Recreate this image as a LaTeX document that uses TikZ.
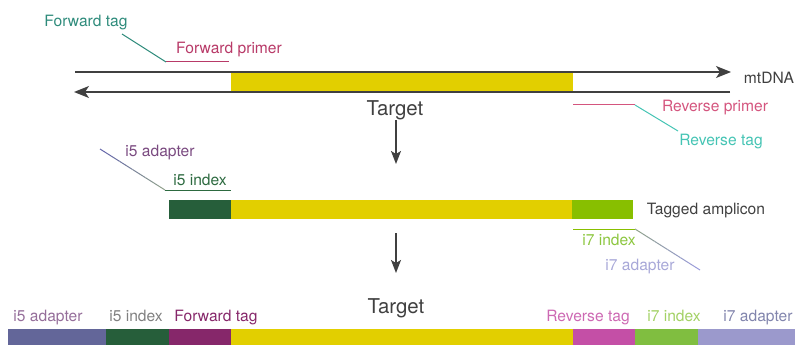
\documentclass[tikz,border=0pt]{standalone}
\usepackage{fontspec}
\setmainfont{TeX Gyre Heros}
\usetikzlibrary{arrows.meta,calc}
\definecolor{tyellow}{HTML}{E2CF00}
\definecolor{dgreen}{HTML}{265E3A}
\definecolor{lgreen}{HTML}{88BF00}
\definecolor{lgreenb}{HTML}{80BE40}
\definecolor{ftag}{HTML}{86276A}
\definecolor{rtagbar}{HTML}{C44FA6}
\definecolor{iadbar}{HTML}{636699}
\definecolor{sevadbar}{HTML}{9B99CC}
\definecolor{tealF}{HTML}{2E8B7B}
\definecolor{fprim}{HTML}{B83A68}
\definecolor{rprim}{HTML}{D4557E}
\definecolor{rtagc}{HTML}{45C4B4}
\definecolor{ifivead}{HTML}{7A4A80}
\definecolor{ifiveidx}{HTML}{2D6A40}
\definecolor{sevidx}{HTML}{8CC63F}
\definecolor{sevad}{HTML}{A8A8D8}
\definecolor{dgrey}{HTML}{404040}
\definecolor{c1}{HTML}{6466AA}
\definecolor{c2}{HTML}{8FA08C}
\definecolor{c3}{HTML}{9A9CDC}
\tikzset{
  lbl/.style={anchor=base, inner sep=0pt, font=\fontsize{15.6}{17}\selectfont},
  big/.style={anchor=base, inner sep=0pt, font=\fontsize{20.4}{22}\selectfont, text=dgrey},
  bar/.style={draw=none, inner sep=0pt, outer sep=0pt, anchor=north west},
  strand/.style={draw=dgrey, line width=1.4pt},
  harrow/.style={strand, -{Stealth[length=15pt,width=12pt,inset=4pt]}},
  varrow/.style={draw=dgrey, line width=1.4pt, -{Stealth[length=13pt,width=10pt,inset=3pt]}},
  leader/.style={line width=1pt},
}
\begin{document}
\begin{tikzpicture}[x=1pt,y=-1pt]
\useasboundingbox (0,0) rectangle (796,345);
% top strands
\coordinate (s1a) at (75,72);
\coordinate (s1b) at (731,72);
\coordinate (s2a) at (74,92);
\coordinate (s2b) at (730,92);
\node[bar, fill=tyellow, minimum width=342pt, minimum height=19pt] (target1) at (231,73) {};
\draw[harrow] (s1a) -- (s1b);
\draw[harrow] (s2b) -- (s2a);
\node[lbl, text=dgrey] (mtdna) at (769,84) {mtDNA};
\node[big] (tlabel1) at (395,115) {Target};
% forward primer / tag
\coordinate (fp1) at (166,62);
\coordinate (fp2) at (229,62);
\coordinate (ft1) at (122,34);
\draw[leader, draw=fprim] (fp1) -- (fp2);
\draw[leader, draw=tealF] (ft1) -- (fp1);
\node[lbl, text=tealF] (ftaglbl) at (86,27) {Forward tag};
\node[lbl, text=fprim] (fprimlbl) at (229,54) {Forward primer};
% reverse primer / tag
\coordinate (rp1) at (573,105);
\coordinate (rp2) at (635,105);
\coordinate (rt1) at (678,131);
\draw[leader, draw=rprim] (rp1) -- (rp2);
\draw[leader, draw=rtagc] (rp2) -- (rt1);
\node[lbl, text=rprim] (rprimlbl) at (715,112) {Reverse primer};
\node[lbl, text=rtagc] (rtaglbl) at (721,145) {Reverse tag};
% arrow 1
\coordinate (a1a) at (396,120);
\coordinate (a1b) at (396,164);
\draw[varrow] (a1a) -- (a1b);
% tagged amplicon
\node[bar, fill=dgreen, minimum width=62pt, minimum height=19pt] (m1) at (169,200) {};
\node[bar, fill=tyellow, minimum width=341pt, minimum height=19pt] (m2) at (231,200) {};
\node[bar, fill=lgreen, minimum width=61pt, minimum height=19pt] (m3) at (572,200) {};
\node[lbl, text=dgrey] (tamp) at (706,214) {Tagged amplicon};
% i5 leader
\coordinate (i5a) at (100,149);
\coordinate (i5b) at (165,190);
\coordinate (i5c) at (231,190);
\foreach \i in {0,...,9}{
  \pgfmathsetmacro{\p}{100-\i*11}
  \draw[leader, draw=c1!\p!c2] ($(i5a)!\i/10!(i5b)$) -- ($(i5a)!\i/10+0.1!(i5b)$);
}
\draw[leader, draw=ifiveidx] (i5b) -- (i5c);
\node[lbl, text=ifivead] (i5adlbl) at (160,157) {i5 adapter};
\node[lbl, text=ifiveidx] (i5idxlbl) at (200,185) {i5 index};
% i7 leader
\coordinate (i7a) at (573,229);
\coordinate (i7b) at (635,229);
\coordinate (i7c) at (700,270);
\draw[leader, draw=lgreen] (i7a) -- (i7b);
\foreach \i in {0,...,9}{
  \pgfmathsetmacro{\p}{100-\i*11}
  \draw[leader, draw=c2!\p!c3] ($(i7b)!\i/10!(i7c)$) -- ($(i7b)!\i/10+0.1!(i7c)$);
}
\node[lbl, text=sevidx] (i7idxlbl) at (609,245) {i7 index};
\node[lbl, text=sevad] (i7adlbl) at (640,270) {i7 adapter};
% arrow 2
\coordinate (a2a) at (396,233);
\coordinate (a2b) at (396,273);
\draw[varrow] (a2a) -- (a2b);
% bottom construct
\node[big] (tlabel2) at (396,313) {Target};
\node[bar, fill=iadbar, minimum width=98pt, minimum height=17pt] (b1) at (8,329) {};
\node[bar, fill=dgreen, minimum width=63pt, minimum height=17pt] (b2) at (106,329) {};
\node[bar, fill=ftag, minimum width=62pt, minimum height=17pt] (b3) at (169,329) {};
\node[bar, fill=tyellow, minimum width=342pt, minimum height=17pt] (b4) at (231,329) {};
\node[bar, fill=rtagbar, minimum width=62pt, minimum height=17pt] (b5) at (573,329) {};
\node[bar, fill=lgreenb, minimum width=63pt, minimum height=17pt] (b6) at (635,329) {};
\node[bar, fill=sevadbar, minimum width=97pt, minimum height=17pt] (b7) at (698,329) {};
\node[lbl, text=ifivead!80!white] (l1) at (48,321) {i5 adapter};
\node[lbl, text=black!50] (l2) at (136,321) {i5 index};
\node[lbl, text=ftag] (l3) at (216,321) {Forward tag};
\node[lbl, text=rtagbar!85!white] (l5) at (588,321) {Reverse tag};
\node[lbl, text=sevidx!80!white] (l6) at (674,321) {i7 index};
\node[lbl, text=iadbar!80!white] (l7) at (758,321) {i7 adapter};
\end{tikzpicture}
\end{document}
